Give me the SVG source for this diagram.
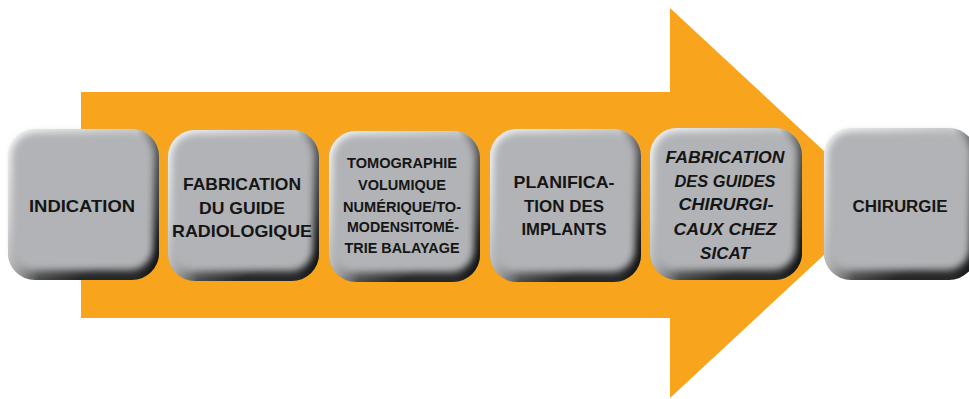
<svg xmlns="http://www.w3.org/2000/svg" width="969" height="399" viewBox="0 0 969 399">
<defs>
<linearGradient id="edge" x1="0" y1="0" x2="0.45" y2="1">
<stop offset="0" stop-color="#f4f5f6"/>
<stop offset="0.5" stop-color="#b4b6b8"/>
<stop offset="0.82" stop-color="#6a6c6e"/>
<stop offset="1" stop-color="#262728"/>
</linearGradient>
<linearGradient id="side" x1="0" y1="0" x2="1" y2="0">
<stop offset="0" stop-color="#ffffff" stop-opacity="0.5"/>
<stop offset="0.2" stop-color="#ffffff" stop-opacity="0"/>
<stop offset="0.85" stop-color="#000000" stop-opacity="0"/>
<stop offset="1" stop-color="#000000" stop-opacity="0.55"/>
</linearGradient>
<filter id="soft" x="-10%" y="-10%" width="120%" height="120%">
<feGaussianBlur stdDeviation="3.5"/>
</filter>
</defs>
<style>
.face{fill:#b1b3b6;filter:url(#soft)}
.edge{fill:url(#edge)}
.side{fill:url(#side)}
.t{font-family:"Liberation Sans",Arial,sans-serif;font-weight:bold;fill:#151515;text-anchor:middle}
.it{font-style:italic}
</style>
<polygon id="arrow" points="81,92 670,92 670,8 880,203 670,398 670,318 81,318" fill="#f8a51d"/>
<g id="connectors"></g>
<g id="n1">
<rect class="edge" x="8" y="129" width="151" height="151" rx="27"/>
<rect class="side" x="8" y="129" width="151" height="151" rx="27"/>
<rect class="face" x="12" y="133" width="141" height="137" rx="23"/>
<text class="t" x="82" y="212" font-size="16" textLength="106" lengthAdjust="spacingAndGlyphs">INDICATION</text>
</g>
<g id="n2">
<rect class="edge" x="168" y="130" width="151" height="151" rx="27"/>
<rect class="side" x="168" y="130" width="151" height="151" rx="27"/>
<rect class="face" x="172" y="134" width="141" height="137" rx="23"/>
<text class="t" font-size="17"><tspan x="242" y="190" textLength="118" lengthAdjust="spacingAndGlyphs">FABRICATION</tspan><tspan x="242" y="214" textLength="86" lengthAdjust="spacingAndGlyphs">DU GUIDE</tspan><tspan x="242" y="237" textLength="140" lengthAdjust="spacingAndGlyphs">RADIOLOGIQUE</tspan></text>
</g>
<g id="n3">
<rect class="edge" x="329" y="131" width="151" height="151" rx="27"/>
<rect class="side" x="329" y="131" width="151" height="151" rx="27"/>
<rect class="face" x="333" y="135" width="141" height="137" rx="23"/>
<text class="t" font-size="14"><tspan x="402" y="168" textLength="110" lengthAdjust="spacingAndGlyphs">TOMOGRAPHIE</tspan><tspan x="402" y="190" textLength="88" lengthAdjust="spacingAndGlyphs">VOLUMIQUE</tspan><tspan x="402" y="212" textLength="118" lengthAdjust="spacingAndGlyphs">NUMÉRIQUE/TO-</tspan><tspan x="403" y="232" textLength="112" lengthAdjust="spacingAndGlyphs">MODENSITOMÉ-</tspan><tspan x="402" y="253" textLength="115" lengthAdjust="spacingAndGlyphs">TRIE BALAYAGE</tspan></text>
</g>
<g id="n4">
<rect class="edge" x="490" y="129" width="151" height="153" rx="27"/>
<rect class="side" x="490" y="129" width="151" height="153" rx="27"/>
<rect class="face" x="494" y="133" width="141" height="139" rx="23"/>
<text class="t" font-size="17"><tspan x="564" y="188" textLength="101" lengthAdjust="spacingAndGlyphs">PLANIFICA-</tspan><tspan x="564" y="212" textLength="80" lengthAdjust="spacingAndGlyphs">TION DES</tspan><tspan x="564" y="235" textLength="85" lengthAdjust="spacingAndGlyphs">IMPLANTS</tspan></text>
</g>
<g id="n5">
<rect class="edge" x="650" y="128" width="152" height="152" rx="27"/>
<rect class="side" x="650" y="128" width="152" height="152" rx="27"/>
<rect class="face" x="654" y="132" width="142" height="138" rx="23"/>
<text class="t it" font-size="17"><tspan x="725" y="163" textLength="119" lengthAdjust="spacingAndGlyphs">FABRICATION</tspan><tspan x="725" y="187" textLength="101" lengthAdjust="spacingAndGlyphs">DES GUIDES</tspan><tspan x="726" y="210" textLength="95" lengthAdjust="spacingAndGlyphs">CHIRURGI-</tspan><tspan x="725" y="235" textLength="103" lengthAdjust="spacingAndGlyphs">CAUX CHEZ</tspan><tspan x="725" y="259" textLength="50" lengthAdjust="spacingAndGlyphs">SICAT</tspan></text>
</g>
<g id="n6">
<rect class="edge" x="824" y="128" width="152" height="152" rx="27"/>
<rect class="side" x="824" y="128" width="152" height="152" rx="27"/>
<rect class="face" x="828" y="132" width="142" height="138" rx="23"/>
<text class="t" x="900" y="212" font-size="16" textLength="95" lengthAdjust="spacingAndGlyphs">CHIRURGIE</text>
</g>
</svg>
